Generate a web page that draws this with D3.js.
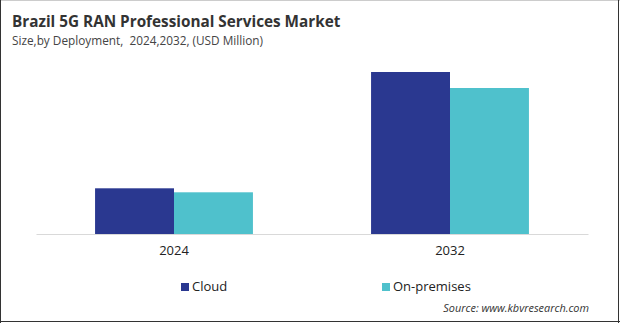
<!DOCTYPE html>
<html><head><meta charset="utf-8">
<script src="https://cdn.jsdelivr.net/npm/d3@7"></script>
<style>
html,body{margin:0;padding:0;background:#fff;}
svg{display:block;}
text{font-family:"Open Sans","Noto Sans",sans-serif;}
</style></head>
<body><svg id="chart" width="620" height="323"></svg>
<script>
const categories = ["2024", "2032"];
const seriesNames = ["Cloud", "On-premises"];
const cloudValues = [45.7, 162.0];
const onPremValues = [41.7, 146.0];
const colors = ["#2a3890", "#4fc1cc"];

const svg = d3.select("#chart");
const W = 620, H = 323;
svg.append("rect").attr("width", W).attr("height", H).attr("fill", "#fff");

svg.append("text").attr("x", 12).attr("y", 27)
  .attr("font-size", 15.3).attr("font-weight", 700).attr("fill", "#333")
  .text("Brazil 5G RAN Professional Services Market");
svg.append("text").attr("x", 12).attr("y", 45)
  .attr("font-size", 11.8).attr("fill", "#444").style("white-space", "pre")
  .text("Size,by Deployment,  2024,2032, (USD Million)");

const x0 = d3.scaleBand().domain(categories).range([36, 588]).paddingInner(0.428).paddingOuter(0.214);
const x1 = d3.scaleBand().domain(seriesNames).range([0, x0.bandwidth()]);
const y = d3.scaleLinear().domain([0, 180]).range([234, 54]);

const rows = categories.map((c, i) => ({cat: c, vals: [cloudValues[i], onPremValues[i]]}));
const g = svg.append("g");
g.selectAll("g.grp").data(rows).join("g").attr("class", "grp")
  .attr("transform", d => `translate(${x0(d.cat)},0)`)
  .selectAll("rect").data(d => d.vals.map((v, j) => ({name: seriesNames[j], v, j})))
  .join("rect")
  .attr("x", d => x1(d.name)).attr("width", x1.bandwidth())
  .attr("y", d => y(d.v)).attr("height", d => y(0) - y(d.v))
  .attr("fill", d => colors[d.j]);

const ax = svg.append("g").attr("transform", "translate(0,234)")
  .call(d3.axisBottom(x0).tickSize(0).tickPadding(12));
ax.select(".domain").attr("stroke", "#d9d9d9").attr("stroke-width", 1.2);
ax.selectAll("text").attr("font-size", 13).attr("fill", "#222")
  .attr("font-family", "'Open Sans','Noto Sans',sans-serif");

const legX = [181, 382];
const leg = svg.append("g");
seriesNames.forEach((n, i) => {
  leg.append("rect").attr("x", legX[i]).attr("y", 283).attr("width", 8).attr("height", 8).attr("fill", colors[i]);
  leg.append("text").attr("x", legX[i] + 11).attr("y", 291).attr("font-size", 13).attr("fill", "#222").text(n);
});

svg.append("text").attr("x", 589).attr("y", 312).attr("text-anchor", "end")
  .attr("font-size", 10.9).attr("font-style", "italic").attr("fill", "#333")
  .text("Source: www.kbvresearch.com");

svg.append("line").attr("x1", 0).attr("x2", W).attr("y1", 0.5).attr("y2", 0.5).attr("stroke", "#ccc");
svg.append("line").attr("x1", 0.5).attr("x2", 0.5).attr("y1", 0).attr("y2", H).attr("stroke", "#333");
svg.append("line").attr("x1", 618.5).attr("x2", 618.5).attr("y1", 0).attr("y2", H).attr("stroke", "#333");
svg.append("line").attr("x1", 0).attr("x2", W).attr("y1", 321.5).attr("y2", 321.5).attr("stroke", "#333");
</script></body></html>
